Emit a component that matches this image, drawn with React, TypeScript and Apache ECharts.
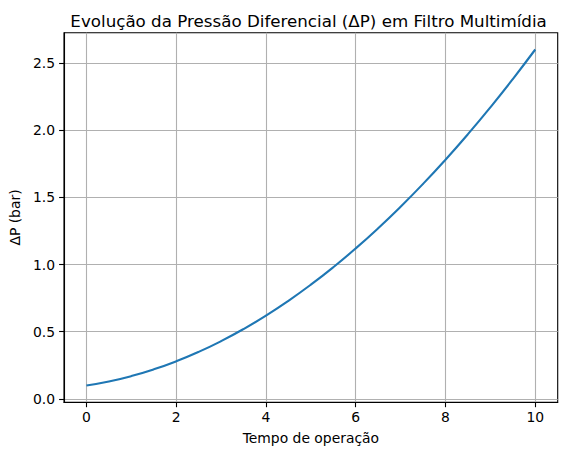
import { useEffect, useRef } from 'react'
import * as echarts from 'echarts'

const tempo = [0, 0.5, 1, 1.5, 2, 2.5, 3, 3.5, 4, 4.5, 5, 5.5, 6, 6.5, 7, 7.5, 8, 8.5, 9, 9.5, 10]
const deltaP = [0.1, 0.13, 0.17, 0.22, 0.28, 0.35, 0.43, 0.52, 0.62, 0.73, 0.85, 0.98, 1.12, 1.27, 1.43, 1.6, 1.78, 1.97, 2.17, 2.38, 2.6]
const xTicks = [0, 2, 4, 6, 8, 10]
const yTicks = [0, 0.5, 1, 1.5, 2, 2.5]

const FONT = 'DejaVu Sans'

export default function App() {
  const chartRef = useRef<HTMLDivElement>(null)

  useEffect(() => {
    if (!chartRef.current) return
    const chart = echarts.init(chartRef.current, null, { renderer: 'svg' })

    chart.setOption({
      animation: false,
      backgroundColor: '#fff',
      title: {
        text: 'Evolução da Pressão Diferencial (ΔP) em Filtro Multimídia',
        left: 303.6,
        top: 7,
        textAlign: 'center',
        textStyle: { fontFamily: FONT, fontSize: 16.7, fontWeight: 'normal', color: '#000' }
      },
      grid: {
        left: 61.5,
        right: 9.3,
        top: 32.7,
        bottom: 52.7,
        show: true,
        borderColor: '#000',
        borderWidth: 1.1,
        backgroundColor: 'transparent'
      },
      xAxis: {
        type: 'value',
        min: -0.5,
        max: 10.5,
        name: 'Tempo de operação',
        nameLocation: 'middle',
        nameGap: 29,
        nameTextStyle: { fontFamily: FONT, fontSize: 13.9, color: '#000' },
        axisLine: { show: true, onZero: false, lineStyle: { color: '#000', width: 1.1 } },
        axisTick: { show: true, length: 4.9, customValues: xTicks, lineStyle: { color: '#000', width: 1.1 } },
        axisLabel: {
          customValues: xTicks,
          margin: 8,
          fontFamily: FONT,
          fontSize: 13.9,
          color: '#000',
          formatter: (v: number) => String(v)
        },
        splitLine: { show: true, lineStyle: { color: '#b0b0b0', width: 1.1 } }
      },
      yAxis: {
        type: 'value',
        min: -0.025,
        max: 2.725,
        name: 'ΔP (bar)',
        nameLocation: 'middle',
        nameGap: 38,
        nameTextStyle: { fontFamily: FONT, fontSize: 13.9, color: '#000' },
        axisLine: { show: true, onZero: false, lineStyle: { color: '#000', width: 1.1 } },
        axisTick: { show: true, length: 4.9, customValues: yTicks, lineStyle: { color: '#000', width: 1.1 } },
        axisLabel: {
          customValues: yTicks,
          margin: 9,
          fontFamily: FONT,
          fontSize: 13.9,
          color: '#000',
          formatter: (v: number) => v.toFixed(1)
        },
        splitLine: { show: true, lineStyle: { color: '#b0b0b0', width: 1.1 } }
      },
      series: [
        {
          type: 'line',
          data: tempo.map((t, i) => [t, deltaP[i]]),
          smooth: true,
          showSymbol: false,
          lineStyle: { color: '#1f77b4', width: 2.1 },
          itemStyle: { color: '#1f77b4' }
        }
      ]
    })

    return () => {
      chart.dispose()
    }
  }, [])

  return <div ref={chartRef} style={{ width: 567, height: 455, margin: -8 }} />
}
